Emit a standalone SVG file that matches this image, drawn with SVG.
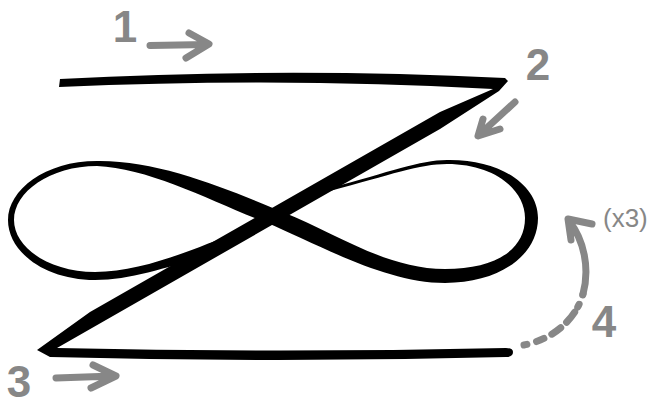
<svg xmlns="http://www.w3.org/2000/svg" width="654" height="407" viewBox="0 0 654 407">
<style>
.ink{fill:#000;stroke:none}
.g{fill:none;stroke:#878787;stroke-width:7;stroke-linecap:round;stroke-linejoin:round}
.num{fill:#878787;font-family:"Liberation Sans",Arial,sans-serif;font-weight:bold;font-size:44px;text-anchor:middle}
.sm{fill:#878787;font-family:"Liberation Sans",Arial,sans-serif;font-size:26px}
</style>
<rect width="654" height="407" fill="#fff"/>
<g id="infinity">
<path class="ink" fill-rule="evenodd" d="M285,213 C230,190 160,160 97,161 C45,161 8,190 8,220 C8,252 45,280 95,280 C130,280 165,268 205,256 L236,233 C200,246 145,272 95,272 C50,272 14,248 14,220 C14,192 50,166 97,166 C150,168 215,203 272,225 Z"/>
<path class="ink" d="M265,222 C320,245 385,283 445,283 C500,283 538,255 538,218 C538,185 500,159 447,160 C420,160 390,172 330,188 L330,191 C390,175 420,164 447,164 C495,164 525,190 525,218 C525,250 495,269 445,269 C385,269 330,230 285,213 Z"/>
</g>
<g id="zigzag">
<path class="ink" d="M60,79 Q285,67 505,78 L508,81 L499,91 L440,129 L57,348 Q280,353 506,348 Q513,348 513,352 Q513,357 506,357 Q280,363 50,357 L37,350 L90,312 L440,112 L493,89 Q285,77 59,87 Z"/>
</g>
<g id="connectors">
<path class="g" d="M150,45.5 L207,44.5 M189,33 L209,44 L186,58"/>
<path class="g" d="M515,102 L479,135 M483,119 L478,136 L500,129"/>
<path class="g" d="M56,378 L114,376 M93,365 L116,376 L91,388"/>
<path class="g" d="M524,345 C550,340 575,322 583,294" stroke-dasharray="3 10 8 9 11 8 13 6"/>
<path class="g" d="M583,294 C590,268 584,240 569,221 M592,224 L568,219 L571,240"/>
</g>
<g id="labels">
<text class="num" x="125" y="42">1</text>
<text class="num" x="538" y="80">2</text>
<text class="num" x="19" y="397">3</text>
<text class="num" x="604" y="337">4</text>
<text class="sm" x="603" y="227">(x3)</text>
</g>
</svg>
